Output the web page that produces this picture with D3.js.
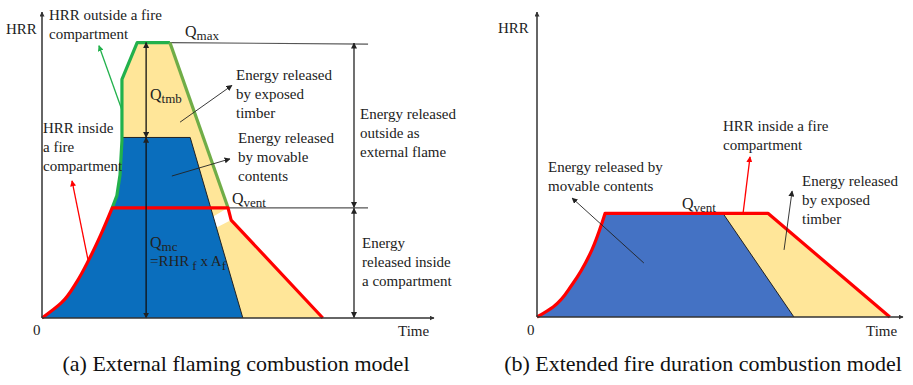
<!DOCTYPE html>
<html>
<head>
<meta charset="utf-8">
<script src="https://cdn.jsdelivr.net/npm/d3@7"></script>
<style>
  html, body { margin: 0; padding: 0; background: #fff; }
  svg text { font-family: "Liberation Serif", "Times New Roman", "DejaVu Serif", serif; }
  .lbl { font-size: 15px; fill: #222; }
  .cap { font-size: 22px; fill: #111; }
</style>
</head>
<body>
<div id="chart"></div>
<script>
// ---- data (time / HRR in relative units, 0..100) ----
// (a) external flaming combustion model
const qMaxA = 90;
const qVentA = 36;
const qMcA = 59;
const growthA = [[0, 0], [5, 5], [9, 12], [12, 19], [15, 27], [18, 36]];      // red growth curve
const redTailA = [[18, 36], [47.7, 36], [48.5, 32], [72, 0]];                 // inside HRR after growth
const greenA = [[18, 36], [19.2, 40], [20, 46.7], [20.5, 58], [20.5, 78], [24.4, 90], [32.8, 90]];
const greenDecayA = [[32.8, 90], [47.7, 36]];
const blueTailA = [[20.5, 59], [38, 59], [51.5, 0]];
const arrowXA = 26.7;       // Qtmb / Qmc arrow position
const sideArrowXA = 80;     // right-hand energy arrows
const refEndA = 83.6;       // end of Qmax / Qvent reference lines

// (b) extended fire duration combustion model
const qVentB = 34;
const growthB = [[0, 0], [4.4, 3.3], [9.8, 11], [15, 22], [17.8, 31], [18.6, 34]];
const redTailB = [[18.6, 34], [63.1, 34], [96.4, 0]];
const blueTailB = [[50.8, 34], [70.2, 0]];

// annotation pointers [from, to] in data units
const pointersA = [
  { from: [20.5, 68], to: [14.6, 89], color: '#22b14c' },
  { from: [11.8, 19], to: [7.7, 44.8], color: '#ff0000' },
  { from: [35.4, 64], to: [48.7, 76], color: '#222' },
  { from: [33.3, 46.4], to: [48.2, 52], color: '#222' }
];
const pointersB = [
  { from: [29.2, 17.7], to: [9.6, 39], color: '#222' },
  { from: [56.3, 34], to: [58.2, 52.5], color: '#ff0000' },
  { from: [67.5, 22], to: [69.7, 41.3], color: '#222' }
];

const W = 913, H = 385;
const svg = d3.select('#chart').append('svg').attr('width', W).attr('height', H);

// arrow markers
const defs = svg.append('defs');
[['blk', '#222'], ['ax', '#333'], ['red', '#ff0000'], ['grn', '#22b14c']].forEach(([id, c]) => {
  defs.append('marker')
    .attr('id', 'm-' + id)
    .attr('viewBox', '0 0 10 10')
    .attr('refX', 9).attr('refY', 5)
    .attr('markerWidth', id === 'ax' ? 5 : 6).attr('markerHeight', id === 'ax' ? 5 : 6)
    .attr('markerUnits', 'userSpaceOnUse')
    .attr('orient', 'auto-start-reverse')
    .append('path').attr('d', 'M0,0L10,5L0,10Z').attr('fill', c);
});
const markerFor = c => c === '#ff0000' ? 'url(#m-red)' : c === '#22b14c' ? 'url(#m-grn)' : 'url(#m-blk)';

function text(g, x, y, lines, cls, lh) {
  lines.forEach((t, i) => g.append('text').attr('class', cls || 'lbl')
    .attr('x', x).attr('y', y + i * (lh || 19)).text(t));
}
function qLabel(g, x, y, sub) {
  const t = g.append('text').attr('class', 'lbl').attr('x', x).attr('y', y).style('font-size', '16px');
  t.append('tspan').text('Q');
  t.append('tspan').attr('dy', 3).style('font-size', '13px').text(sub);
  return t;
}

// ================= panel (a) =================
const xA = d3.scaleLinear().domain([0, 100]).range([42, 432]);
const yA = d3.scaleLinear().domain([0, 100]).range([318, 12]);
const lineA = d3.line().x(d => xA(d[0])).y(d => yA(d[1]));
const smoothA = d3.line().x(d => xA(d[0])).y(d => yA(d[1])).curve(d3.curveMonotoneY);
const gA = svg.append('g');

// outer (yellow) shape: growth + green outline + red tail
const outerPath = smoothA(growthA) + 'L' + lineA(greenA.slice(1)).slice(1) +
  'L' + lineA(greenDecayA.slice(1)).slice(1) + 'L' + lineA(redTailA.slice(2)).slice(1) + 'Z';
gA.append('path').attr('d', outerPath).attr('fill', '#ffe699');

// blue: movable contents
const bluePathA = smoothA(growthA) + 'L' + lineA(greenA.slice(1, 4)).slice(1) +
  'L' + lineA(blueTailA).slice(1) + 'Z';
gA.append('path').attr('d', bluePathA).attr('fill', '#0a6ebd');
gA.append('path').attr('d', lineA(blueTailA)).attr('fill', 'none').attr('stroke', '#222').attr('stroke-width', 1);

// reference lines
gA.append('line').attr('x1', xA(32.8)).attr('x2', xA(refEndA)).attr('y1', yA(qMaxA)).attr('y2', yA(qMaxA) + 1.5)
  .attr('stroke', '#555').attr('stroke-width', 1.2);
gA.append('line').attr('x1', xA(47.7)).attr('x2', xA(refEndA)).attr('y1', yA(qVentA)).attr('y2', yA(qVentA))
  .attr('stroke', '#555').attr('stroke-width', 1.2);

// green outline (outside HRR)
gA.append('path').attr('d', lineA(greenA)).attr('fill', 'none').attr('stroke', '#22b14c').attr('stroke-width', 3.2).attr('stroke-linejoin', 'round');
gA.append('path').attr('d', lineA(greenDecayA)).attr('fill', 'none').attr('stroke', '#70ad47').attr('stroke-width', 3.2);

// red outline (inside HRR)
gA.append('path').attr('d', smoothA(growthA) + 'L' + lineA(redTailA.slice(1)).slice(1))
  .attr('fill', 'none').attr('stroke', '#ff0000').attr('stroke-width', 3.2).attr('stroke-linejoin', 'round');

// vertical double arrows
[[qMaxA, qMcA], [qMcA, 0]].forEach(([a, b]) => {
  gA.append('line').attr('x1', xA(arrowXA)).attr('x2', xA(arrowXA)).attr('y1', yA(a)).attr('y2', yA(b))
    .attr('stroke', '#111').attr('stroke-width', 1.3)
    .attr('marker-start', 'url(#m-blk)').attr('marker-end', 'url(#m-blk)');
});
[[qMaxA, qVentA], [qVentA, 0]].forEach(([a, b]) => {
  gA.append('line').attr('x1', xA(sideArrowXA)).attr('x2', xA(sideArrowXA)).attr('y1', yA(a) + 0.5).attr('y2', yA(b) - 0.5)
    .attr('stroke', '#111').attr('stroke-width', 1.2)
    .attr('marker-start', 'url(#m-blk)').attr('marker-end', 'url(#m-blk)');
});

// pointers
pointersA.forEach(p => {
  gA.append('line').attr('x1', xA(p.from[0])).attr('y1', yA(p.from[1])).attr('x2', xA(p.to[0])).attr('y2', yA(p.to[1]))
    .attr('stroke', p.color).attr('stroke-width', p.color === '#222' ? 0.9 : 1.3).attr('marker-end', markerFor(p.color));
});

// axes
gA.append('line').attr('x1', xA(0)).attr('x2', xA(0)).attr('y1', yA(0)).attr('y2', yA(100))
  .attr('stroke', '#333').attr('stroke-width', 1.5).attr('marker-end', 'url(#m-ax)');
gA.append('line').attr('x1', xA(0)).attr('x2', xA(100) + 2).attr('y1', yA(0)).attr('y2', yA(0))
  .attr('stroke', '#333').attr('stroke-width', 1.5).attr('marker-end', 'url(#m-ax)');

// labels (a)
text(gA, 6, 34, ['HRR']);
text(gA, 49, 20, ['HRR outside a fire', 'compartment']);
qLabel(gA, 185, 37, 'max');
qLabel(gA, 150, 100, 'tmb');
text(gA, 236, 80, ['Energy released', 'by exposed', 'timber']);
text(gA, 238, 143, ['Energy released', 'by movable', 'contents']);
text(gA, 360, 119, ['Energy released', 'outside as', 'external flame']);
text(gA, 43, 133, ['HRR inside', 'a fire', 'compartment']);
qLabel(gA, 232, 204, 'vent');
qLabel(gA, 150, 248, 'mc');
{
  const t = gA.append('text').attr('class', 'lbl').attr('x', 150).attr('y', 266);
  t.append('tspan').text('=RHR');
  t.append('tspan').attr('dy', 4).attr('dx', 3).style('font-size', '13px').text('f');
  t.append('tspan').attr('dy', -4).text(' x A');
  t.append('tspan').attr('dy', 4).style('font-size', '13px').text('f');
}
text(gA, 362, 248, ['Energy', 'released inside', 'a compartment']);
text(gA, 33, 335, ['0']);
text(gA, 398, 336, ['Time']);
gA.append('text').attr('class', 'cap').attr('x', 236).attr('y', 371).attr('text-anchor', 'middle')
  .text('(a) External flaming combustion model');

// ================= panel (b) =================
const xB = d3.scaleLinear().domain([0, 100]).range([537, 903]);
const yB = d3.scaleLinear().domain([0, 100]).range([317, 12]);
const lineB = d3.line().x(d => xB(d[0])).y(d => yB(d[1]));
const smoothB = d3.line().x(d => xB(d[0])).y(d => yB(d[1])).curve(d3.curveMonotoneY);
const gB = svg.append('g');

gB.append('path').attr('d', smoothB(growthB) + 'L' + lineB(redTailB.slice(1)).slice(1) + 'Z').attr('fill', '#ffe699');
gB.append('path').attr('d', smoothB(growthB) + 'L' + lineB(blueTailB).slice(1) + 'Z').attr('fill', '#4472c4');
gB.append('path').attr('d', lineB(blueTailB)).attr('fill', 'none').attr('stroke', '#222').attr('stroke-width', 1);
gB.append('path').attr('d', smoothB(growthB) + 'L' + lineB(redTailB.slice(1)).slice(1))
  .attr('fill', 'none').attr('stroke', '#ff0000').attr('stroke-width', 3.2).attr('stroke-linejoin', 'round');

pointersB.forEach(p => {
  gB.append('line').attr('x1', xB(p.from[0])).attr('y1', yB(p.from[1])).attr('x2', xB(p.to[0])).attr('y2', yB(p.to[1]))
    .attr('stroke', p.color).attr('stroke-width', p.color === '#222' ? 0.9 : 1.3).attr('marker-end', markerFor(p.color));
});

gB.append('line').attr('x1', xB(0)).attr('x2', xB(0)).attr('y1', yB(0)).attr('y2', yB(100))
  .attr('stroke', '#333').attr('stroke-width', 1.5).attr('marker-end', 'url(#m-ax)');
gB.append('line').attr('x1', xB(0)).attr('x2', xB(100)).attr('y1', yB(0)).attr('y2', yB(0))
  .attr('stroke', '#333').attr('stroke-width', 1.5).attr('marker-end', 'url(#m-ax)');

text(gB, 498, 33, ['HRR']);
text(gB, 723, 131, ['HRR inside a fire', 'compartment']);
text(gB, 548, 172, ['Energy released by', 'movable contents']);
text(gB, 802, 186, ['Energy released', 'by exposed', 'timber']);
qLabel(gB, 682, 209, 'vent');
text(gB, 527, 335, ['0']);
text(gB, 866, 336, ['Time']);
gB.append('text').attr('class', 'cap').attr('x', 703).attr('y', 371).attr('text-anchor', 'middle')
  .text('(b) Extended fire duration combustion model');
</script>
</body>
</html>
